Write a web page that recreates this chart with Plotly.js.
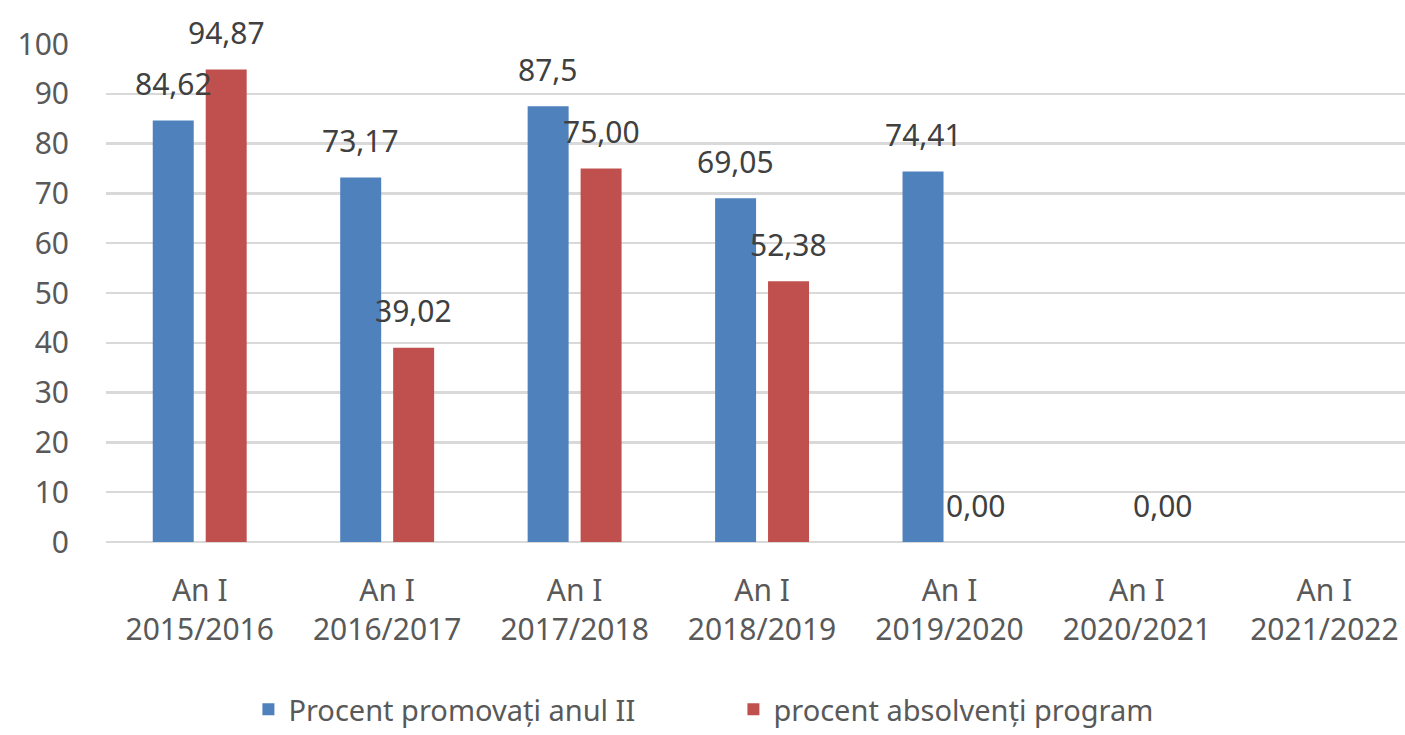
<!DOCTYPE html>
<html>
<head>
<meta charset="utf-8">
<script src="https://cdn.plot.ly/plotly-3.0.1.min.js"></script>
<style>html,body{margin:0;padding:0;background:#fff;}#chart{width:1405px;height:735px;}</style>
</head>
<body>
<div id="chart"></div>
<script>
const categories = ["An I<br>2015/2016","An I<br>2016/2017","An I<br>2017/2018","An I<br>2018/2019","An I<br>2019/2020","An I<br>2020/2021","An I<br>2021/2022"];
const seriesNames = ["Procent promovați anul II","procent absolvenți program"];
const promovati = [84.62, 73.17, 87.5, 69.05, 74.41, null, null];
const absolventi = [94.87, 39.02, 75.00, 52.38, 0.00, 0.00, null];
const promovatiLabels = ["84,62","73,17","87,5","69,05","74,41", null, null];
const absolventiLabels = ["94,87","39,02","75,00","52,38","0,00","0,00", null];
const yTicks = [0,10,20,30,40,50,60,70,80,90,100];

const W = 1405, H = 735;
const margin = {l:106, r:0, t:44, b:193, autoexpand:false};
const xRange = [-0.5, 6.43];
const bargap = 0.435, bargroupgap = 0.226;
const catPx = (W - margin.l - margin.r) / (xRange[1] - xRange[0]);
const slotPx = catPx * (1 - bargap) / 2;
const FONT = "Noto Sans, Open Sans, sans-serif";

const traces = [
  {type:'bar', name:seriesNames[0], x:categories, y:promovati, marker:{color:'#4F81BD'}, hoverinfo:'skip'},
  {type:'bar', name:seriesNames[1], x:categories, y:absolventi, marker:{color:'#C0504D'}, hoverinfo:'skip'}
];

const annotations = [];
[[promovati, promovatiLabels, -1],[absolventi, absolventiLabels, 1]].forEach(([vals, labs, side]) => {
  vals.forEach((v, i) => {
    if (v === null || labs[i] === null) return;
    annotations.push({
      x: categories[i], y: v, xref:'x', yref:'y',
      text: labs[i], showarrow:false,
      xshift: side * slotPx / 2, yshift: 37,
      xanchor:'center', yanchor:'middle',
      font:{family:FONT, size:30, color:'#404040'}
    });
  });
});

const layout = {
  width: W, height: H,
  margin: margin,
  paper_bgcolor:'#fff', plot_bgcolor:'#fff',
  barmode:'group', bargap:bargap, bargroupgap:bargroupgap,
  showlegend:true,
  legend:{orientation:'h', xref:'paper', x:0.483, xanchor:'center',
          yref:'container', y:0, yanchor:'bottom', entrywidth:440, borderwidth:0,
          font:{family:FONT, size:29, color:'#595959'}, itemclick:false, tracegroupgap:0},
  xaxis:{type:'category', range:xRange, showgrid:false, zeroline:false, showline:false, automargin:false,
         ticks:'', tickfont:{family:FONT, size:30, color:'#595959'}, ticklabelstandoff:28},
  yaxis:{range:[0,100], tickvals:yTicks, showgrid:true, gridcolor:'#d9d9d9', gridwidth:2.5, automargin:false,
         zeroline:true, zerolinecolor:'#d9d9d9', zerolinewidth:2.5, showline:false,
         ticks:'', tickfont:{family:FONT, size:30, color:'#595959'}, ticklabelstandoff:36},
  annotations: annotations
};

Plotly.newPlot('chart', traces, layout, {staticPlot:true, displayModeBar:false});
</script>
</body>
</html>
